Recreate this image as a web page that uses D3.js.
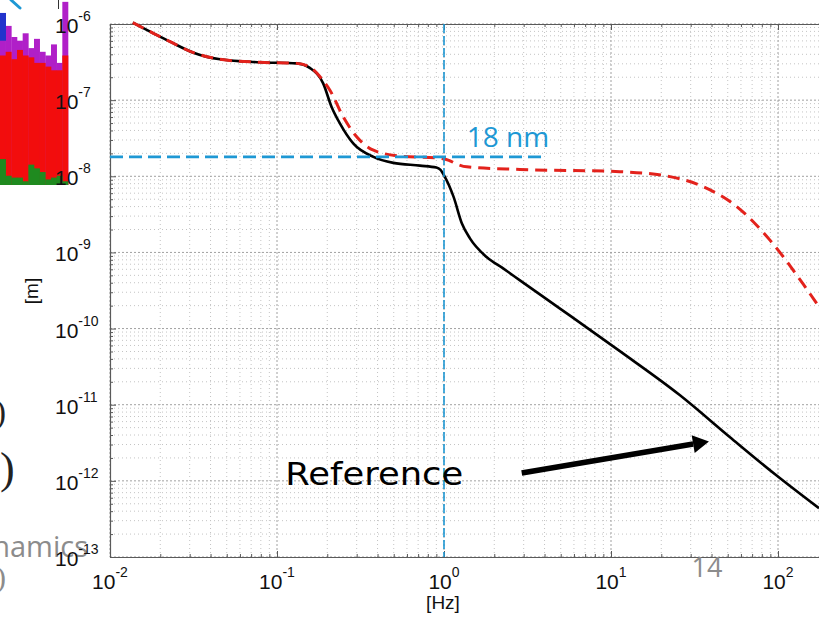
<!DOCTYPE html>
<html><head><meta charset="utf-8">
<script src="https://cdn.jsdelivr.net/npm/d3@7"></script>
<style>body{margin:0;background:#fff;} svg{display:block;}</style>
</head><body><svg id="c" width="819" height="618"></svg>
<script>
// ---------- data ----------
const freqBlack = [0.0137, 0.0182, 0.0229, 0.0316, 0.0456, 0.079, 0.131, 0.158, 0.189, 0.212, 0.238, 0.286, 0.378, 0.497, 0.718, 0.9, 0.95, 1.01, 1.14, 1.28, 1.43, 1.8, 2.26, 2.85, 4.95, 11.3, 25.9, 51.6, 96, 176];
const dispBlack = [1.04e-6, 7.55e-7, 5.86e-7, 4.2e-7, 3.44e-7, 3.14e-7, 3.04e-7, 2.63e-7, 1.66e-7, 8.2e-8, 4.95e-8, 2.7e-8, 1.8e-8, 1.5e-8, 1.38e-8, 1.3e-8, 1.22e-8, 9.9e-9, 5.4e-9, 2.4e-9, 1.53e-9, 8.7e-10, 6.17e-10, 4.3e-10, 1.83e-10, 5.05e-11, 1.33e-11, 3.74e-12, 1.22e-12, 4.37e-13];
const freqRed = [0.0137, 0.0182, 0.0229, 0.0316, 0.0456, 0.079, 0.131, 0.158, 0.189, 0.207, 0.249, 0.3, 0.378, 0.546, 0.946, 1.07, 1.19, 1.37, 2.85, 11.3, 22.5, 35.7, 56.6, 89.5, 142, 176];
const dispRed = [1.04e-6, 7.55e-7, 5.86e-7, 4.2e-7, 3.44e-7, 3.14e-7, 3.04e-7, 2.7e-7, 1.8e-7, 1.36e-7, 6.05e-8, 3.3e-8, 2.2e-8, 1.84e-8, 1.72e-8, 1.62e-8, 1.45e-8, 1.33e-8, 1.23e-8, 1.15e-8, 9.9e-9, 7.3e-9, 4e-9, 1.45e-9, 3.8e-10, 1.93e-10];
const xTickExps = [-2, -1, 0, 1, 2, 3];
const yTickExps = [-13, -12, -11, -10, -9, -8, -7, -6];
const xLabel = "[Hz]";
const yLabel = "[m]";
const markFreq = 1;          // vertical marker
const markDisp = 1.8e-8;     // 18 nm
const markFreqEnd = 4;
const markText = "18 nm";
const markTextPos = [1.37, 2.44e-8];
const refText = "Reference";
const refTextPos = [0.112, 8.75e-13];
const arrowTail = [2.92, 1.27e-12];
const arrowTip = [38.6, 3.3e-12];
const slideNumber = "14";
const sideWord = "namics";
// decorative inset fragment (fractions of inset height)
const insetPurple = [0.92, 0.86, 0.80, 0.78, 0.82, 0.74, 0.79, 0.72, 0.70, 0.76, 0.66, 0.99];
const insetRed    = [0.70, 0.72, 0.68, 0.73, 0.70, 0.69, 0.66, 0.66, 0.64, 0.62, 0.62, 0.70];
const insetGreen  = [0.14, 0.05, 0.04, 0.04, 0.02, 0.11, 0.09, 0.07, 0.03, 0.04, 0.05, 0.02];

// ---------- layout ----------
const svg = d3.select("#c");
const X0 = 110, X1 = 945, Y0 = 24, Y1 = 557;
const x = d3.scaleLog().domain([1e-2, 1e3]).range([X0, X1]);
const y = d3.scaleLog().domain([1e-13, 1e-6]).range([Y1, Y0]);
const FONT = "'Liberation Sans', Arial, Helvetica, sans-serif";
const BLUE = "#1e98d4", RED = "#e3221c", AXC = "#5a5a5a";

svg.append("rect").attr("width", 819).attr("height", 618).attr("fill", "#fff");

// ---------- decorative slide fragments ----------
const ib = d3.scaleBand().domain(d3.range(insetPurple.length)).range([0, 68]).padding(0);
const iy = d3.scaleLinear().domain([0, 1]).range([185, 0]);
const ins = svg.append("g");
ins.selectAll(".p").data(insetPurple).join("rect")
  .attr("x", (d, i) => ib(i)).attr("width", ib.bandwidth() + 0.3)
  .attr("y", d => iy(d)).attr("height", d => iy(0) - iy(d)).attr("fill", "#b01fc8");
ins.selectAll(".r").data(insetRed).join("rect")
  .attr("x", (d, i) => ib(i)).attr("width", ib.bandwidth() + 0.3)
  .attr("y", d => iy(d)).attr("height", d => iy(0) - iy(d)).attr("fill", "#f20d0d");
ins.selectAll(".g").data(insetGreen).join("rect")
  .attr("x", (d, i) => ib(i)).attr("width", ib.bandwidth() + 0.3)
  .attr("y", d => iy(d)).attr("height", d => iy(0) - iy(d)).attr("fill", "#1f8a1f");
ins.append("rect").attr("x", 0).attr("width", 6).attr("y", iy(0.93)).attr("height", iy(0.78) - iy(0.93)).attr("fill", "#2233cc");
svg.append("line").attr("x1", 11).attr("y1", 0).attr("x2", 20).attr("y2", 8)
  .attr("stroke", BLUE).attr("stroke-width", 3).attr("stroke-linecap", "round");
svg.append("line").attr("x1", 58.5).attr("y1", 0).attr("x2", 58.5).attr("y2", 9)
  .attr("stroke", "#333").attr("stroke-width", 1);

const paren = [[-5, 423, 33, "#222"], [0, 483, 44, "#222"], [-4, 587, 30, "#8c8c8c"]];
svg.selectAll(".paren").data(paren).join("text")
  .attr("x", d => d[0]).attr("y", d => d[1]).style("font-size", d => d[2] + "px")
  .attr("fill", d => d[3]).style("font-family", "'Liberation Serif', 'DejaVu Serif', serif").text(")");
svg.append("text").attr("x", 88).attr("y", 557).attr("text-anchor", "end")
  .style("font-family", "'Open Sans', sans-serif").style("font-size", "29px").attr("fill", "#8c8c8c").text(sideWord);

// ---------- grid ----------
const majorX = xTickExps.map(e => Math.pow(10, e));
const majorY = yTickExps.map(e => Math.pow(10, e));
const minorX = [], minorY = [];
xTickExps.slice(0, -1).forEach(e => { for (let m = 2; m <= 9; m++) minorX.push(m * Math.pow(10, e)); });
yTickExps.slice(0, -1).forEach(e => { for (let m = 2; m <= 9; m++) minorY.push(m * Math.pow(10, e)); });

const grid = svg.append("g");
grid.selectAll(".mx").data(minorX).join("line")
  .attr("x1", d => x(d)).attr("x2", d => x(d)).attr("y1", Y0).attr("y2", Y1)
  .attr("stroke", "#c4c4c4").attr("stroke-width", 1).attr("stroke-dasharray", "1,3");
grid.selectAll(".my").data(minorY).join("line")
  .attr("y1", d => y(d)).attr("y2", d => y(d)).attr("x1", X0).attr("x2", X1)
  .attr("stroke", "#c4c4c4").attr("stroke-width", 1).attr("stroke-dasharray", "1,3");
grid.selectAll(".Mx").data(majorX).join("line")
  .attr("x1", d => x(d)).attr("x2", d => x(d)).attr("y1", Y0).attr("y2", Y1)
  .attr("stroke", "#a0a0a0").attr("stroke-width", 1).attr("stroke-dasharray", "2,2");
grid.selectAll(".My").data(majorY).join("line")
  .attr("y1", d => y(d)).attr("y2", d => y(d)).attr("x1", X0).attr("x2", X1)
  .attr("stroke", "#a0a0a0").attr("stroke-width", 1).attr("stroke-dasharray", "2,2");

// ---------- axes ----------
function styleAxis(g, keepDomain) {
  g.selectAll(".tick line").attr("stroke", AXC);
  if (keepDomain) g.select(".domain").attr("stroke", AXC).attr("stroke-width", 1.2);
  else g.select(".domain").remove();
}
const axes = [
  [d3.axisBottom, `translate(0,${Y1})`, x],
  [d3.axisTop, `translate(0,${Y0})`, x],
  [d3.axisLeft, `translate(${X0},0)`, y]
];
axes.forEach(([fn, tr, sc]) => {
  const majors = sc === x ? majorX : majorY;
  const minors = sc === x ? minorX : minorY;
  svg.append("g").attr("transform", tr)
    .call(fn(sc).tickValues(minors).tickSize(-3).tickSizeOuter(0).tickFormat(""))
    .call(g => styleAxis(g, false));
  svg.append("g").attr("transform", tr)
    .call(fn(sc).tickValues(majors).tickSize(-6).tickSizeOuter(0).tickFormat(""))
    .call(g => styleAxis(g, true));
});

// tick labels
const xl = svg.append("g").selectAll("text").data(xTickExps).join("text")
  .attr("x", d => x(Math.pow(10, d))).attr("y", 589).attr("text-anchor", "middle")
  .style("font-family", FONT).style("font-size", "21px").attr("fill", "#111");
xl.append("tspan").style("font-size", "21px").text("10");
xl.append("tspan").style("font-size", "14px").attr("dy", -12).text(d => d);
const yl = svg.append("g").selectAll("text").data(yTickExps).join("text")
  .attr("x", 55).attr("y", d => y(Math.pow(10, d)) + 9)
  .style("font-family", FONT).style("font-size", "21px").attr("fill", "#111");
yl.append("tspan").style("font-size", "21px").text("10");
yl.append("tspan").style("font-size", "14px").attr("dy", -12).text(d => d);

svg.append("text").attr("x", 443).attr("y", 609).attr("text-anchor", "middle")
  .style("font-family", FONT).style("font-size", "19px").attr("fill", "#111").text(xLabel);
svg.append("text").attr("transform", "translate(38,291) rotate(-90)").attr("text-anchor", "middle")
  .style("font-family", FONT).style("font-size", "19px").attr("fill", "#111").text(yLabel);

// ---------- curves ----------
const line = d3.line().x(d => x(d[0])).y(d => y(d[1])).curve(d3.curveMonotoneX);
svg.append("path").datum(freqBlack.map((f, i) => [f, dispBlack[i]]))
  .attr("d", line).attr("fill", "none").attr("stroke", "#000").attr("stroke-width", 2.6);
svg.append("path").datum(freqRed.map((f, i) => [f, dispRed[i]]))
  .attr("d", line).attr("fill", "none").attr("stroke", RED).attr("stroke-width", 3)
  .attr("stroke-dasharray", "12,7");

// ---------- markers ----------
svg.append("line").attr("x1", x(markFreq)).attr("x2", x(markFreq)).attr("y1", Y0).attr("y2", Y1)
  .attr("stroke", BLUE).attr("stroke-width", 1.6).attr("stroke-dasharray", "9,3");
svg.append("line").attr("x1", X0).attr("x2", x(markFreqEnd)).attr("y1", y(markDisp)).attr("y2", y(markDisp))
  .attr("stroke", BLUE).attr("stroke-width", 2.6).attr("stroke-dasharray", "13,6");
svg.append("text").attr("x", x(markTextPos[0])).attr("y", y(markTextPos[1]))
  .style("font-family", "'Open Sans', sans-serif").style("font-size", "28px").attr("fill", BLUE).text(markText);

// annotation
svg.append("text").attr("x", x(refTextPos[0])).attr("y", y(refTextPos[1]))
  .style("font-family", "'DejaVu Sans', sans-serif").style("font-size", "32px").attr("fill", "#000")
  .attr("textLength", 178).attr("lengthAdjust", "spacingAndGlyphs").text(refText);
const tx = x(arrowTail[0]), ty = y(arrowTail[1]), hx = x(arrowTip[0]), hy = y(arrowTip[1]);
const ang = Math.atan2(hy - ty, hx - tx), L = 16, W = 9;
const bx = hx - L * Math.cos(ang), by = hy - L * Math.sin(ang);
svg.append("line").attr("x1", tx).attr("y1", ty).attr("x2", bx).attr("y2", by)
  .attr("stroke", "#000").attr("stroke-width", 5.5);
svg.append("path").attr("fill", "#000").attr("d",
  `M${hx},${hy}L${bx - W * Math.sin(ang)},${by + W * Math.cos(ang)}L${bx + W * Math.sin(ang)},${by - W * Math.cos(ang)}Z`);

// slide number
svg.append("text").attr("x", 707).attr("y", 577).attr("text-anchor", "middle")
  .style("font-family", "'Open Sans', sans-serif").style("font-size", "27px").attr("fill", "#8c8c8c").text(slideNumber);
</script></body></html>
